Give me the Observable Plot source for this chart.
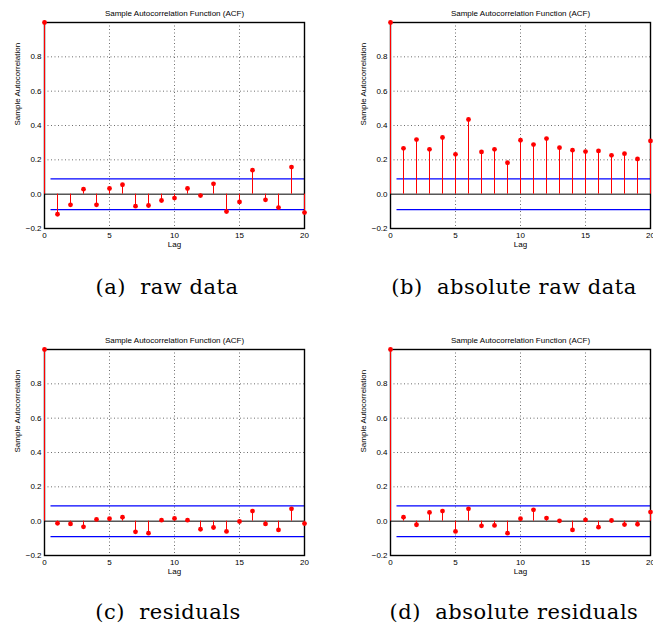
<!DOCTYPE html>
<html>
<head>
<meta charset="utf-8">
<script src="https://cdn.jsdelivr.net/npm/d3@7"></script>
<script src="https://cdn.jsdelivr.net/npm/@observablehq/plot@0.6"></script>
<style>
  html, body { margin: 0; padding: 0; background: #fff; overflow: hidden; }
  #root { position: relative; width: 653px; height: 630px; overflow: hidden; }
  .panel { position: absolute; }
  .cap { position: absolute; font-family: "DejaVu Serif", serif; font-size: 21px; color: #000;
         letter-spacing: 0.5px; white-space: pre; transform: translate(-50%, -50%); line-height: 1; }
</style>
</head>
<body>
<div id="root"></div>
<script>
// ---- data ----
const lags = [0,1,2,3,4,5,6,7,8,9,10,11,12,13,14,15,16,17,18,19,20];
const acfRaw = [1.0,-0.117,-0.062,0.029,-0.062,0.033,0.055,-0.070,-0.066,-0.037,-0.023,0.033,-0.008,0.060,-0.101,-0.045,0.140,-0.033,-0.078,0.158,-0.107];
const acfAbsRaw = [1.0,0.267,0.318,0.261,0.330,0.232,0.435,0.246,0.261,0.183,0.314,0.289,0.324,0.271,0.256,0.248,0.252,0.226,0.236,0.205,0.310];
const acfResid = [1.0,-0.012,-0.016,-0.033,0.010,0.014,0.023,-0.062,-0.070,0.006,0.016,0.006,-0.047,-0.037,-0.060,-0.002,0.059,-0.016,-0.051,0.072,-0.014];
const acfAbsResid = [1.0,0.023,-0.021,0.051,0.059,-0.060,0.072,-0.027,-0.025,-0.070,0.014,0.066,0.018,0.002,-0.051,0.008,-0.035,0.004,-0.020,-0.018,0.053];
const confBound = 0.0895;          // +/- bound level
const boundLagRange = [0.5, 20];   // lag extent of bounds
const xTicks = [0,5,10,15,20];
const yTicks = [-0.2,0,0.2,0.4,0.6,0.8];
const gridXVals = [5,10,15];
const gridYVals = [0.2,0.4,0.6,0.8];
const titleText = "Sample Autocorrelation Function (ACF)";
const xLabelText = "Lag";
const yLabelText = "Sample Autocorrelation";
const captions = ["(a)  raw data", "(b)  absolute raw data", "(c)  residuals", "(d)  absolute residuals"];
const seriesList = [acfRaw, acfAbsRaw, acfResid, acfAbsResid];

// ---- layout ----
const panelPos = [
  {left: 0,   top: 0,   width: 326, mr: 22},
  {left: 346, top: 0,   width: 307, mr: 3},
  {left: 0,   top: 327, width: 326, mr: 22},
  {left: 346, top: 327, width: 307, mr: 3}
];
const capPos = [[167, 287], [514, 287], [168, 612], [514, 612]];

function acfPlot(values, pos) {
  const data = lags.map((lag, i) => ({lag, acf: values[i]}));
  const bounds = [confBound, -confBound].map(b => ({y: b, x1: boundLagRange[0], x2: boundLagRange[1]}));
  const font = "'Liberation Sans', Arial, Helvetica, sans-serif";
  return Plot.plot({
    width: pos.width, height: 250,
    marginLeft: 44, marginRight: pos.mr, marginTop: 22, marginBottom: 22,
    x: {domain: [0, 20], label: null},
    y: {domain: [-0.2, 1], label: null},
    style: {fontFamily: font, fontSize: "8px", background: "white", overflow: "visible", color: "#000"},
    marks: [
      Plot.gridX(gridXVals, {stroke: "#333", strokeOpacity: 0.9, strokeDasharray: "1,2.5", strokeWidth: 0.8}),
      Plot.gridY(gridYVals, {stroke: "#333", strokeOpacity: 0.9, strokeDasharray: "1,2.5", strokeWidth: 0.8}),
      Plot.ruleY([0], {stroke: "black", strokeWidth: 1}),
      Plot.ruleY(bounds, {y: "y", x1: "x1", x2: "x2", stroke: "#0000ff", strokeWidth: 1.3}),
      Plot.frame({stroke: "black", strokeWidth: 1.4}),
      Plot.ruleX(data, {x: "lag", y1: 0, y2: "acf", stroke: "#ff0000", strokeWidth: 1}),
      Plot.dot(data, {x: "lag", y: "acf", r: 2.4, fill: "#ff0000", stroke: "none"}),
      Plot.axisX(xTicks, {tickSize: 0, tickPadding: 4, label: null, fontSize: 8}),
      Plot.axisY(yTicks, {tickSize: 0, tickPadding: 3, label: null, fontSize: 8}),
      Plot.text([titleText], {frameAnchor: "top", dy: -9, lineAnchor: "middle", fontSize: 8}),
      Plot.text([xLabelText], {frameAnchor: "bottom", dy: 16, lineAnchor: "middle", fontSize: 8}),
      Plot.text([yLabelText], {frameAnchor: "left", dx: -27, rotate: -90, lineAnchor: "middle", fontSize: 8})
    ]
  });
}

const root = document.getElementById("root");
seriesList.forEach((vals, i) => {
  const pos = panelPos[i];
  const div = document.createElement("div");
  div.className = "panel";
  div.style.left = pos.left + "px";
  div.style.top = pos.top + "px";
  div.appendChild(acfPlot(vals, pos));
  root.appendChild(div);
  const cap = document.createElement("div");
  cap.className = "cap";
  cap.style.left = capPos[i][0] + "px";
  cap.style.top = capPos[i][1] + "px";
  cap.textContent = captions[i];
  root.appendChild(cap);
});
</script>
</body>
</html>
